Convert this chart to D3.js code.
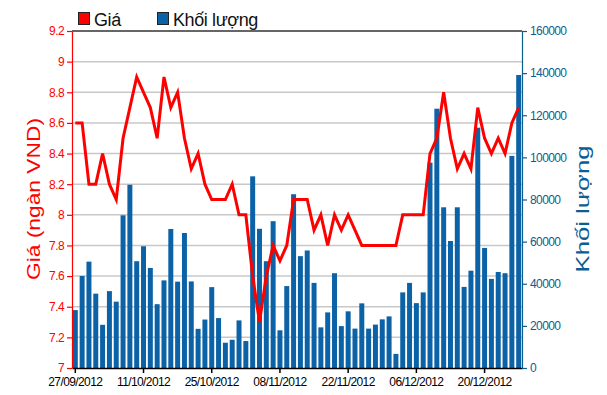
<!DOCTYPE html>
<html>
<head>
<meta charset="utf-8">
<script src="https://cdn.jsdelivr.net/npm/d3@7"></script>
<style>
  body { margin: 0; background: #fff; }
  svg { display: block; font-family: "Liberation Sans", Arial, sans-serif; }
</style>
</head>
<body>
<svg id="chart"></svg>
<script>
// trading days shown on the x axis
const dates = [
  "27/09/2012", "28/09/2012",
  "01/10/2012", "02/10/2012", "03/10/2012", "04/10/2012", "05/10/2012",
  "08/10/2012", "09/10/2012", "10/10/2012", "11/10/2012", "12/10/2012",
  "15/10/2012", "16/10/2012", "17/10/2012", "18/10/2012", "19/10/2012",
  "22/10/2012", "23/10/2012", "24/10/2012", "25/10/2012", "26/10/2012",
  "29/10/2012", "30/10/2012", "31/10/2012", "01/11/2012", "02/11/2012",
  "05/11/2012", "06/11/2012", "07/11/2012", "08/11/2012", "09/11/2012",
  "12/11/2012", "13/11/2012", "14/11/2012", "15/11/2012", "16/11/2012",
  "19/11/2012", "20/11/2012", "21/11/2012", "22/11/2012", "23/11/2012",
  "26/11/2012", "27/11/2012", "28/11/2012", "29/11/2012", "30/11/2012",
  "03/12/2012", "04/12/2012", "05/12/2012", "06/12/2012", "07/12/2012",
  "10/12/2012", "11/12/2012", "12/12/2012", "13/12/2012", "14/12/2012",
  "17/12/2012", "18/12/2012", "19/12/2012", "20/12/2012", "21/12/2012",
  "24/12/2012", "25/12/2012", "26/12/2012", "27/12/2012"
];

// closing price (thousand VND)
const prices = [
  8.6, 8.6, 8.2, 8.2, 8.4, 8.2, 8.1, 8.5, 8.7, 8.9,
  8.8, 8.7, 8.5, 8.9, 8.7, 8.8, 8.5, 8.3, 8.4, 8.2,
  8.1, 8.1, 8.1, 8.2, 8.0, 8.0, 7.6, 7.3, 7.6, 7.8,
  7.7, 7.8, 8.1, 8.1, 8.1, 7.9, 8.0, 7.8, 8.0, 7.9,
  8.0, 7.9, 7.8, 7.8, 7.8, 7.8, 7.8, 7.8, 8.0, 8.0,
  8.0, 8.0, 8.4, 8.5, 8.8, 8.5, 8.3, 8.4, 8.3, 8.7,
  8.5, 8.4, 8.5, 8.4, 8.6, 8.7
];

// traded volume
const volumes = [
  27500, 43700, 50500, 35300, 20500, 36500, 31500, 72500, 87000, 50700,
  57800, 47500, 30300, 41600, 66000, 41000, 64100, 41100, 18600, 23000,
  38400, 23700, 12000, 13400, 22600, 12800, 91000, 66100, 50700, 69700,
  17900, 38900, 82500, 53100, 55800, 40400, 19300, 26400, 45000, 19900,
  26900, 18700, 30700, 18700, 20600, 23100, 24500, 6700, 35900, 40400,
  30800, 35900, 97500, 123100, 76300, 60300, 76300, 38500, 46200, 114100,
  57000, 42300, 45600, 45000, 100700, 139100
];

const priceTicks = [7, 7.2, 7.4, 7.6, 7.8, 8, 8.2, 8.4, 8.6, 8.8, 9, 9.2];
const volumeTicks = [0, 20000, 40000, 60000, 80000, 100000, 120000, 140000, 160000];
const dateTicks = ["27/09/2012", "11/10/2012", "25/10/2012", "08/11/2012", "22/11/2012", "06/12/2012", "20/12/2012"];

const width = 607;
const height = 395;
const plot = { left: 72, right: 522, top: 31, bottom: 368 };

const red = "#ff0000";
const blue = "#0b62a6";
const blueText = "#0d5c92";

const svg = d3.select("#chart").attr("width", width).attr("height", height);

const x = d3.scaleBand().domain(dates).range([plot.left, plot.right]).paddingInner(0.27).paddingOuter(0.12);
const yPrice = d3.scaleLinear().domain([7, 9.2]).range([plot.bottom, plot.top]);
const yVol = d3.scaleLinear().domain([0, 160000]).range([plot.bottom, plot.top]);

// gridlines
svg.append("g")
  .selectAll("line")
  .data(priceTicks.slice(1, -1))
  .enter()
  .append("line")
  .attr("x1", plot.left).attr("x2", plot.right)
  .attr("y1", d => yPrice(d)).attr("y2", d => yPrice(d))
  .attr("stroke", "#c8c8c8")
  .attr("stroke-width", 1.5);

// top border
svg.append("line")
  .attr("x1", plot.left).attr("x2", plot.right)
  .attr("y1", plot.top).attr("y2", plot.top)
  .attr("stroke", "#333")
  .attr("stroke-width", 1.5);

// volume bars
svg.append("g")
  .selectAll("rect")
  .data(volumes)
  .enter()
  .append("rect")
  .attr("x", (d, i) => x(dates[i]))
  .attr("y", d => yVol(d))
  .attr("width", x.bandwidth())
  .attr("height", d => plot.bottom - yVol(d))
  .attr("fill", blue);

// price line
const line = d3.line()
  .x((d, i) => x(dates[i]) + x.bandwidth() / 2)
  .y(d => yPrice(d));

svg.append("path")
  .datum(prices)
  .attr("d", line)
  .attr("fill", "none")
  .attr("stroke", red)
  .attr("stroke-width", 3)
  .attr("stroke-linejoin", "miter");

// axes
const tickFont = g => g.selectAll("text")
  .style("font-size", "12px")
  .style("letter-spacing", "-0.6px");

const xAxis = svg.append("g")
  .attr("transform", `translate(0,${plot.bottom})`)
  .call(d3.axisBottom(x).tickValues(dateTicks).tickSize(5).tickSizeOuter(0).tickPadding(4));
xAxis.select(".domain").attr("stroke", "#000").attr("stroke-width", 1.5);
xAxis.selectAll("line").attr("stroke", "#000").attr("stroke-width", 1.5);
xAxis.selectAll("text").attr("fill", "#000");
xAxis.call(tickFont);

const yLeft = svg.append("g")
  .attr("transform", `translate(${plot.left},0)`)
  .call(d3.axisLeft(yPrice).tickValues(priceTicks).tickFormat(d3.format("~g")).tickSize(5).tickSizeOuter(0).tickPadding(3));
yLeft.select(".domain").attr("stroke", red).attr("stroke-width", 1.2);
yLeft.selectAll("line").attr("stroke", red).attr("stroke-width", 1.2);
yLeft.selectAll("text").attr("fill", red);
yLeft.call(tickFont);

const yRight = svg.append("g")
  .attr("transform", `translate(${plot.right},0)`)
  .call(d3.axisRight(yVol).tickValues(volumeTicks).tickFormat(d3.format("d")).tickSize(5).tickSizeOuter(0).tickPadding(3));
yRight.select(".domain").attr("stroke", blueText).attr("stroke-width", 1.2);
yRight.selectAll("line").attr("stroke", blueText).attr("stroke-width", 1.2);
yRight.selectAll("text").attr("fill", blueText);
yRight.call(tickFont);

// axis titles
svg.append("text")
  .text("Giá (ngàn VND)")
  .attr("transform", "translate(40,199) rotate(-90)")
  .attr("text-anchor", "middle")
  .attr("textLength", 162)
  .attr("lengthAdjust", "spacingAndGlyphs")
  .attr("fill", red)
  .style("font-size", "18px");

svg.append("text")
  .text("Khối lượng")
  .attr("transform", "translate(589,209) rotate(-90)")
  .attr("text-anchor", "middle")
  .attr("textLength", 127)
  .attr("lengthAdjust", "spacingAndGlyphs")
  .attr("fill", blueText)
  .style("font-size", "18px");

// legend
const legendItems = [
  { label: "Giá", color: red, x: 78 },
  { label: "Khối lượng", color: blue, x: 157 }
];

const legend = svg.append("g");
legendItems.forEach(item => {
  legend.append("rect")
    .attr("x", item.x + 0.5)
    .attr("y", 12.5)
    .attr("width", 11)
    .attr("height", 12)
    .attr("fill", item.color)
    .attr("stroke", "#222")
    .attr("stroke-width", 1);
  legend.append("text")
    .attr("x", item.x + 16)
    .attr("y", 26)
    .text(item.label)
    .attr("fill", "#111")
    .style("font-size", "18px")
    .style("letter-spacing", "-0.4px");
});
</script>
</body>
</html>
